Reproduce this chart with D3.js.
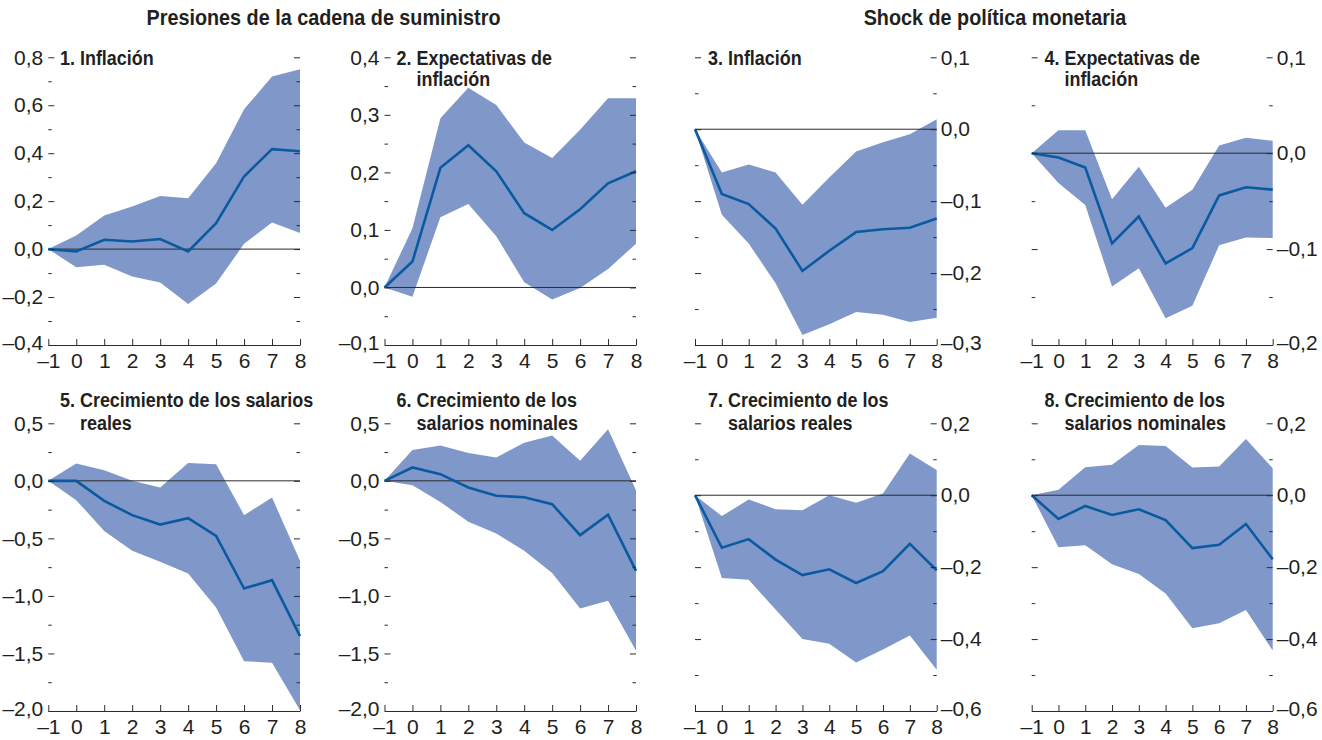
<!DOCTYPE html>
<html lang="es">
<head>
<meta charset="utf-8">
<script src="https://cdn.jsdelivr.net/npm/d3@7"></script>
<style>
  html, body { margin: 0; padding: 0; background: #fff; }
  svg { display: block; }
  text { font-family: "Liberation Sans Narrow", "Arial Narrow", "Liberation Sans", sans-serif; fill: #231f20; }
</style>
</head>
<body>
<svg id="chart" width="1322" height="740"></svg>
<script>
// Horizon (quarters after the shock)
const horizons = [-1, 0, 1, 2, 3, 4, 5, 6, 7, 8];

// Column headers
const headers = ["Presiones de la cadena de suministro", "Shock de política monetaria"];

// Panel titles (each entry: number prefix, first line, second line)
const titles = [
  ["1.", "Inflación", ""],
  ["2.", "Expectativas de", "inflación"],
  ["3.", "Inflación", ""],
  ["4.", "Expectativas de", "inflación"],
  ["5.", "Crecimiento de los salarios", "reales"],
  ["6.", "Crecimiento de los", "salarios nominales"],
  ["7.", "Crecimiento de los", "salarios reales"],
  ["8.", "Crecimiento de los", "salarios nominales"]
];

// Y-axis domains and tick steps per panel
const yDomains = [[-0.4, 0.8], [-0.1, 0.4], [-0.3, 0.1], [-0.2, 0.1], [-2.0, 0.5], [-2.0, 0.5], [-0.6, 0.2], [-0.6, 0.2]];
const majorSteps = [0.2, 0.1, 0.1, 0.1, 0.5, 0.5, 0.2, 0.2];

// 1. Supply chain pressures -> inflation
const p1Mean  = [0, -0.01, 0.039, 0.032, 0.042, -0.01, 0.108, 0.303, 0.417, 0.408];
const p1Upper = [0, 0.057, 0.140, 0.178, 0.222, 0.212, 0.358, 0.583, 0.720, 0.750];
const p1Lower = [0, -0.076, -0.065, -0.114, -0.139, -0.229, -0.144, 0.022, 0.111, 0.067];

// 2. Supply chain pressures -> inflation expectations
const p2Mean  = [0, 0.045, 0.208, 0.247, 0.202, 0.129, 0.100, 0.136, 0.181, 0.202];
const p2Upper = [0, 0.103, 0.294, 0.347, 0.317, 0.252, 0.225, 0.274, 0.329, 0.329];
const p2Lower = [0, -0.016, 0.122, 0.145, 0.089, 0.009, -0.021, -0.001, 0.032, 0.076];

// 3. Monetary policy shock -> inflation
const p3Mean  = [0, -0.090, -0.104, -0.138, -0.197, -0.169, -0.143, -0.139, -0.137, -0.124];
const p3Upper = [0, -0.060, -0.049, -0.060, -0.105, -0.067, -0.031, -0.018, -0.007, 0.014];
const p3Lower = [0, -0.119, -0.159, -0.214, -0.286, -0.271, -0.254, -0.258, -0.268, -0.262];

// 4. Monetary policy shock -> inflation expectations
const p4Mean  = [0, -0.0045, -0.015, -0.094, -0.066, -0.115, -0.099, -0.044, -0.0355, -0.038];
const p4Upper = [0, 0.024, 0.024, -0.048, -0.014, -0.057, -0.038, 0.008, 0.016, 0.013];
const p4Lower = [0, -0.031, -0.054, -0.139, -0.120, -0.172, -0.159, -0.096, -0.088, -0.0885];

// 5. Supply chain pressures -> real wage growth
const p5Mean  = [0, 0, -0.174, -0.298, -0.380, -0.324, -0.478, -0.936, -0.863, -1.350];
const p5Upper = [0, 0.150, 0.093, 0.0, -0.058, 0.156, 0.145, -0.298, -0.145, -0.695];
const p5Lower = [0, -0.168, -0.435, -0.608, -0.704, -0.805, -1.100, -1.567, -1.580, -1.993];

// 6. Supply chain pressures -> nominal wage growth
const p6Mean  = [0, 0.116, 0.058, -0.058, -0.130, -0.142, -0.203, -0.472, -0.295, -0.782];
const p6Upper = [0, 0.267, 0.307, 0.243, 0.203, 0.330, 0.394, 0.174, 0.449, -0.081];
const p6Lower = [0, -0.038, -0.183, -0.356, -0.458, -0.608, -0.800, -1.110, -1.043, -1.477];

// 7. Monetary policy shock -> real wage growth
const p7Mean  = [0, -0.146, -0.122, -0.179, -0.222, -0.206, -0.244, -0.211, -0.135, -0.209];
const p7Upper = [0, -0.058, -0.012, -0.039, -0.042, 0.0, -0.021, 0.005, 0.116, 0.070];
const p7Lower = [0, -0.230, -0.235, -0.318, -0.400, -0.413, -0.465, -0.429, -0.390, -0.485];

// 8. Monetary policy shock -> nominal wage growth
const p8Mean  = [0, -0.066, -0.030, -0.055, -0.039, -0.069, -0.147, -0.138, -0.080, -0.178];
const p8Upper = [0, 0.015, 0.078, 0.085, 0.140, 0.137, 0.077, 0.080, 0.156, 0.075];
const p8Lower = [0, -0.145, -0.139, -0.192, -0.219, -0.273, -0.370, -0.356, -0.319, -0.432];

const means  = [p1Mean, p2Mean, p3Mean, p4Mean, p5Mean, p6Mean, p7Mean, p8Mean];
const uppers = [p1Upper, p2Upper, p3Upper, p4Upper, p5Upper, p6Upper, p7Upper, p8Upper];
const lowers = [p1Lower, p2Lower, p3Lower, p4Lower, p5Lower, p6Lower, p7Lower, p8Lower];

// ---- layout ----
const colX = [[48.3, 300], [384.5, 636], [695, 936.7], [1031.7, 1272.7]];
const rowY = [[345, 57.3], [711, 423.3]];
const titleBase = [[65, 86], [407, 430]];
const titleX = [60, 396.5, 708, 1044.5];

const bandColor = "#7f98c9";
const lineColor = "#0b5aa1";
const axisColor = "#2b2b2b";
const tickFont = 21;
const titleFont = 21;
const condense = 0.855;   // horizontal squeeze to get a condensed look

const loc = d3.formatLocale({decimal: ",", thousands: ".", grouping: [3], currency: ["", ""], minus: "\u2013"});
const fmt = loc.format(".1f");

const svg = d3.select("#chart");

// condensed bold text helper
function boldText(parent, x, y, size, sx, anchor) {
  return parent.append("text")
    .attr("transform", `translate(${x},${y}) scale(${sx},1)`)
    .attr("text-anchor", anchor || "start")
    .attr("font-weight", "bold").attr("font-size", size);
}

// column headers
boldText(svg, 323.5, 25, 22, 0.9, "middle").text(headers[0]);
boldText(svg, 995, 25, 22, 0.9, "middle").text(headers[1]);

const tickRange = (lo, hi, step) => d3.range(Math.round((hi - lo) / step) + 1).map(i => +(lo + i * step).toFixed(4));

for (let p = 0; p < 8; p++) {
  const row = Math.floor(p / 4), col = p % 4;
  const rightLabels = col >= 2;
  const [x0, x1] = colX[col];
  const x = d3.scaleLinear().domain([-1, 8]).range([x0, x1]);
  const y = d3.scaleLinear().domain(yDomains[p]).range(rowY[row]);
  const g = svg.append("g");

  const [lo, hi] = yDomains[p];
  const step = majorSteps[p];
  const majors = tickRange(lo, hi, step);
  const minors = tickRange(lo + step / 2, hi - step / 2, step);

  // confidence band
  const area = d3.area()
    .x((d, i) => x(horizons[i]))
    .y0((d, i) => y(lowers[p][i]))
    .y1((d, i) => y(uppers[p][i]));
  g.append("path").datum(means[p]).attr("d", area).attr("fill", bandColor);

  // zero line
  g.append("line").attr("x1", x0).attr("x2", x1).attr("y1", y(0)).attr("y2", y(0))
    .attr("stroke", axisColor).attr("stroke-width", 1);

  // point estimate
  const line = d3.line().x((d, i) => x(horizons[i])).y(d => y(d));
  g.append("path").datum(means[p]).attr("d", line)
    .attr("fill", "none").attr("stroke", lineColor).attr("stroke-width", 2.6).attr("stroke-linejoin", "miter");

  // y ticks, both sides, pointing inward
  const leftMajor = d3.axisLeft(y).tickValues(majors).tickSize(-6).tickPadding(5)
    .tickFormat(rightLabels ? "" : fmt);
  const rightMajor = d3.axisRight(y).tickValues(majors).tickSize(-6).tickPadding(4)
    .tickFormat(rightLabels ? fmt : "");
  const leftMinor = d3.axisLeft(y).tickValues(minors).tickSize(-3.5).tickFormat("");
  const rightMinor = d3.axisRight(y).tickValues(minors).tickSize(-3.5).tickFormat("");

  [[leftMajor, x0], [leftMinor, x0], [rightMajor, x1], [rightMinor, x1]].forEach(([ax, tx]) => {
    const a = g.append("g").attr("transform", `translate(${tx},0)`).call(ax);
    a.select(".domain").remove();
    a.selectAll("line").attr("stroke", axisColor);
    a.selectAll("text").attr("font-size", tickFont).attr("font-family", null).attr("fill", "#231f20");
    // lift the lowest value label a touch so it clears the horizon labels
    a.selectAll(".tick").filter(d => d === lo).select("text").attr("dy", "0.2em");
  });

  // x axis with upward ticks
  const xa = g.append("g").attr("transform", `translate(0,${rowY[row][0]})`)
    .call(d3.axisBottom(x).tickValues(horizons).tickSize(-6).tickSizeOuter(0).tickPadding(8).tickFormat(loc.format("d")));
  xa.select(".domain").attr("stroke", axisColor);
  xa.selectAll("line").attr("stroke", axisColor);
  xa.selectAll("text").attr("font-size", tickFont).attr("font-family", null).attr("fill", "#231f20");

  // panel title
  const [num, l1, l2] = titles[p];
  const t = boldText(g, titleX[col], titleBase[row][0], titleFont, condense);
  const pre = t.append("tspan").text(num + " ");
  t.append("tspan").text(l1);
  if (l2) {
    const indent = pre.node().getComputedTextLength() * condense;
    boldText(g, titleX[col] + indent, titleBase[row][1], titleFont, condense).text(l2);
  }
}
</script>
</body>
</html>
